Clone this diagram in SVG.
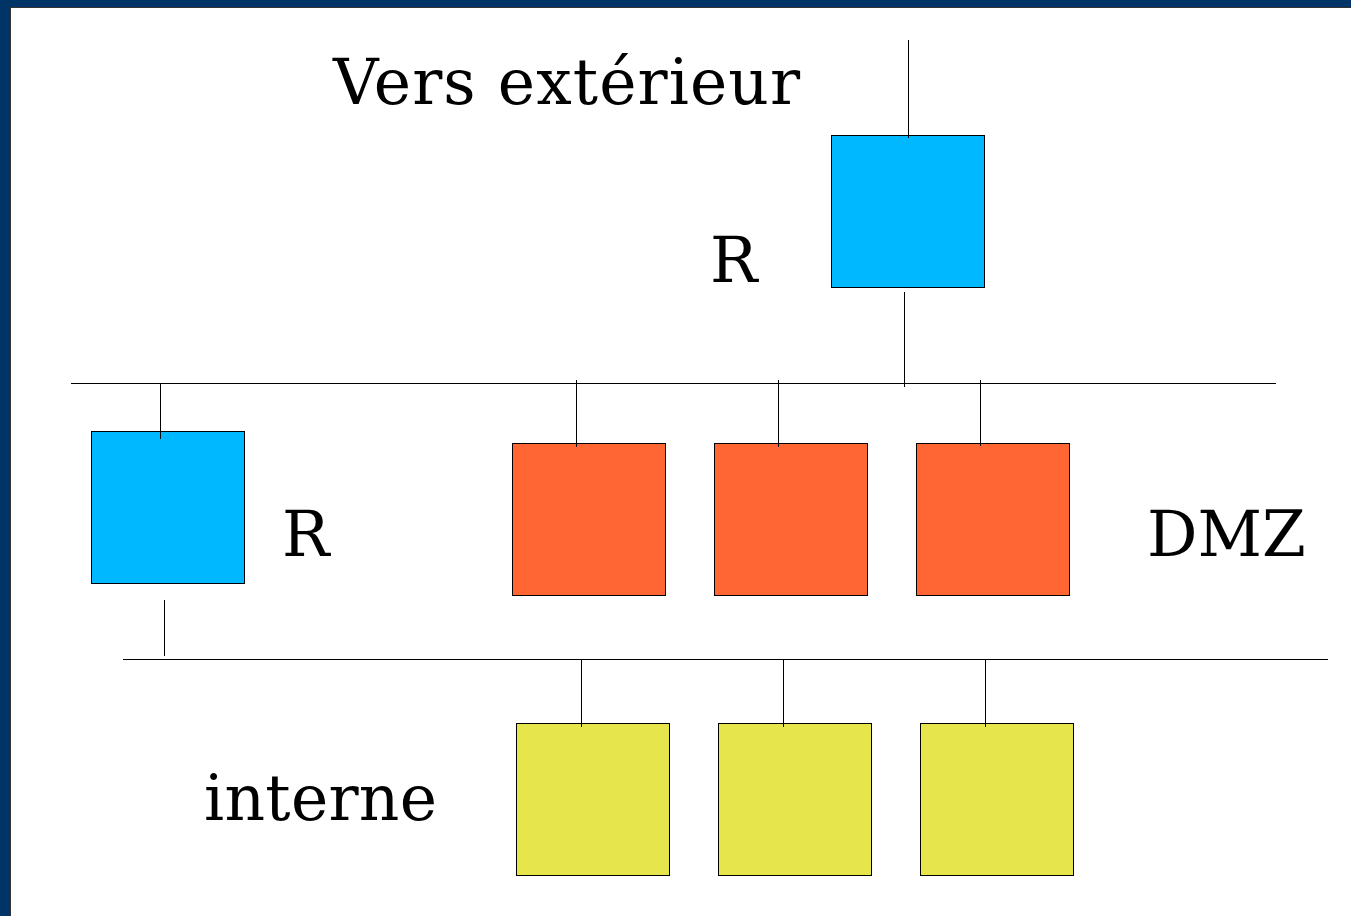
<svg xmlns="http://www.w3.org/2000/svg" width="1351" height="916" viewBox="0 0 1351 916">
<style>
.lbl{font-family:"DejaVu Serif",serif;font-size:63px;fill:#000}
.box{stroke:#000;stroke-width:1}
.blue{fill:#00b8ff}
.orange{fill:#ff6633}
.yellow{fill:#e6e64c}
.ln{stroke:#000;stroke-width:1;fill:none}
</style>
<rect x="0" y="0" width="1351" height="916" fill="#fff"/>
<rect x="0" y="0" width="1351" height="7" fill="#003366"/>
<rect x="0" y="0" width="10" height="916" fill="#003366"/>
<line x1="10.5" y1="7" x2="10.5" y2="916" stroke="#333" stroke-width="1"/>
<line x1="10" y1="7.5" x2="1351" y2="7.5" stroke="#333" stroke-width="1"/>
<g id="router-top"><rect class="box blue" x="831.5" y="135.5" width="153" height="152"/></g>
<g id="router-left"><rect class="box blue" x="91.5" y="431.5" width="153" height="152"/></g>
<g id="dmz1"><rect class="box orange" x="512.5" y="443.5" width="153" height="152"/></g>
<g id="dmz2"><rect class="box orange" x="714.5" y="443.5" width="153" height="152"/></g>
<g id="dmz3"><rect class="box orange" x="916.5" y="443.5" width="153" height="152"/></g>
<g id="int1"><rect class="box yellow" x="516.5" y="723.5" width="153" height="152"/></g>
<g id="int2"><rect class="box yellow" x="718.5" y="723.5" width="153" height="152"/></g>
<g id="int3"><rect class="box yellow" x="920.5" y="723.5" width="153" height="152"/></g>
<g id="connectors">
<line class="ln" x1="908.5" y1="40" x2="908.5" y2="138"/>
<line class="ln" x1="904.5" y1="292" x2="904.5" y2="387"/>
<line class="ln" x1="71" y1="383.5" x2="1276" y2="383.5"/>
<line class="ln" x1="160.5" y1="383" x2="160.5" y2="439"/>
<line class="ln" x1="164.5" y1="600" x2="164.5" y2="656"/>
<line class="ln" x1="123" y1="659.5" x2="1328" y2="659.5"/>
<line class="ln" x1="576.5" y1="380" x2="576.5" y2="447"/>
<line class="ln" x1="778.5" y1="380" x2="778.5" y2="447"/>
<line class="ln" x1="980.5" y1="380" x2="980.5" y2="446"/>
<line class="ln" x1="581.5" y1="659" x2="581.5" y2="727"/>
<line class="ln" x1="783.5" y1="659" x2="783.5" y2="727"/>
<line class="ln" x1="985.5" y1="659" x2="985.5" y2="727"/>
</g>
<g id="labels">
<text class="lbl" x="333" y="104" textLength="467" lengthAdjust="spacing">Vers extérieur</text>
<text class="lbl" x="710" y="282">R</text>
<text class="lbl" x="282" y="556">R</text>
<text class="lbl" x="1147" y="556">DMZ</text>
<text class="lbl" x="204" y="820" textLength="233" lengthAdjust="spacing">interne</text>
</g>
</svg>
